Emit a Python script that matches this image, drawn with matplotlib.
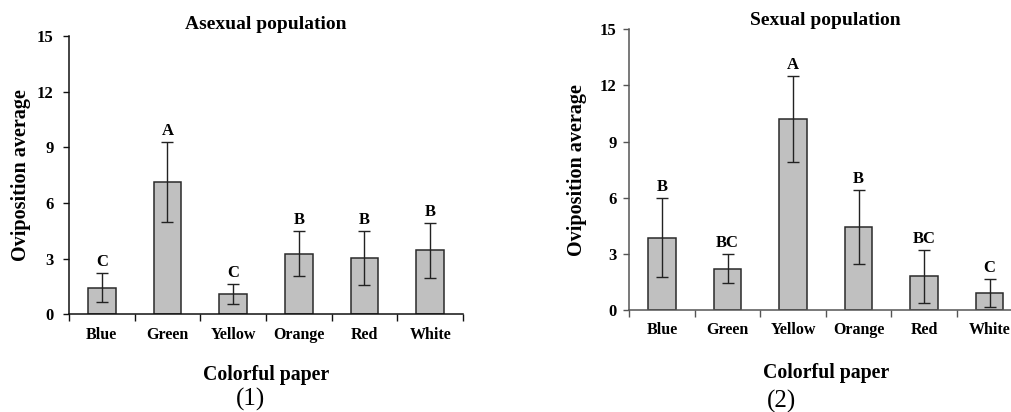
import numpy as np
import matplotlib
matplotlib.use('Agg')
import matplotlib.pyplot as plt
from matplotlib.ticker import FixedLocator, NullFormatter

plt.rcParams['font.family'] = ['Liberation Serif', 'DejaVu Serif']
plt.rcParams['font.weight'] = 'bold'

colors = ['Blue', 'Green', 'Yellow', 'Orange', 'Red', 'White']

# asexual population
asex_mean = [1.44, 7.13, 1.08, 3.27, 3.05, 3.45]
asex_err = [0.78, 2.15, 0.55, 1.20, 1.45, 1.49]
asex_letters = ['C', 'A', 'C', 'B', 'B', 'B']

# sexual population
sex_mean = [3.87, 2.21, 10.23, 4.45, 1.80, 0.91]
sex_err = [2.13, 0.76, 2.30, 1.97, 1.40, 0.74]
sex_letters = ['B', 'BC', 'A', 'B', 'BC', 'C']

W, H = 1012, 412
fig = plt.figure(figsize=(W / 100, H / 100), dpi=100)

def panel(rect, mean, err, letters, title, caption, cap_xy, ytick_pad, ylab_x, xlab_y, title_pad, spine_col):
    ax = fig.add_axes(rect)
    x = np.arange(len(colors))
    ax.bar(x, mean, width=0.42, color='#c0c0c0', edgecolor='#2a2a2a', linewidth=1.1, zorder=2)
    ax.errorbar(x, mean, yerr=err, fmt='none', ecolor='#222222', elinewidth=1.0,
                capsize=4, capthick=1.0, zorder=3)
    for xi, m, e, lab in zip(x, mean, err, letters):
        ax.annotate(lab, (xi, m + e), xytext=(0, 5), textcoords='offset points',
                    ha='center', va='baseline', fontsize=12, fontweight='bold')
    ax.set_xlim(-0.5, 5.5)
    ax.set_ylim(0, 15)
    ax.set_yticks([0, 3, 6, 9, 12, 15])
    ax.xaxis.set_major_locator(FixedLocator(np.arange(-0.5, 6.0, 1.0)))
    ax.xaxis.set_major_formatter(NullFormatter())
    ax.xaxis.set_minor_locator(FixedLocator(x))
    ax.set_xticklabels(colors, minor=True)
    ax.tick_params(axis='x', which='major', direction='out', length=5, width=1, color=spine_col)
    ax.tick_params(axis='x', which='minor', length=0, pad=9, labelsize=11.5)
    ax.tick_params(axis='y', direction='out', length=4, width=1, color=spine_col,
                   pad=ytick_pad, labelsize=12)
    for s in ['top', 'right']:
        ax.spines[s].set_visible(False)
    for s in ['left', 'bottom']:
        ax.spines[s].set_color(spine_col)
        ax.spines[s].set_linewidth(1.1)
    ax.set_title(title, fontsize=14, fontweight='bold', pad=title_pad)
    ax.set_ylabel('Oviposition average', fontsize=14.5, fontweight='bold')
    ax.yaxis.set_label_coords(ylab_x, 0.5)
    ax.set_xlabel('Colorful paper', fontsize=14.3, fontweight='bold')
    ax.xaxis.set_label_coords(0.5, xlab_y)
    fig.text(cap_xy[0] / W, 1 - cap_xy[1] / H, caption, ha='center', va='center',
             fontsize=18, fontweight='normal')
    return ax

panel([69 / W, 1 - 314.3 / H, 394 / W, 278.3 / H], asex_mean, asex_err, asex_letters,
      'Asexual population', '(1)', (251, 399), 7, -0.096, -0.182, 5, '#111111')
panel([629.3 / W, 1 - 310 / H, 393 / W, 280.7 / H], sex_mean, sex_err, sex_letters,
      'Sexual population', '(2)', (782, 401), 5, -0.108, -0.189, 3, '#555555')

fig.savefig('out.png', dpi=100)
